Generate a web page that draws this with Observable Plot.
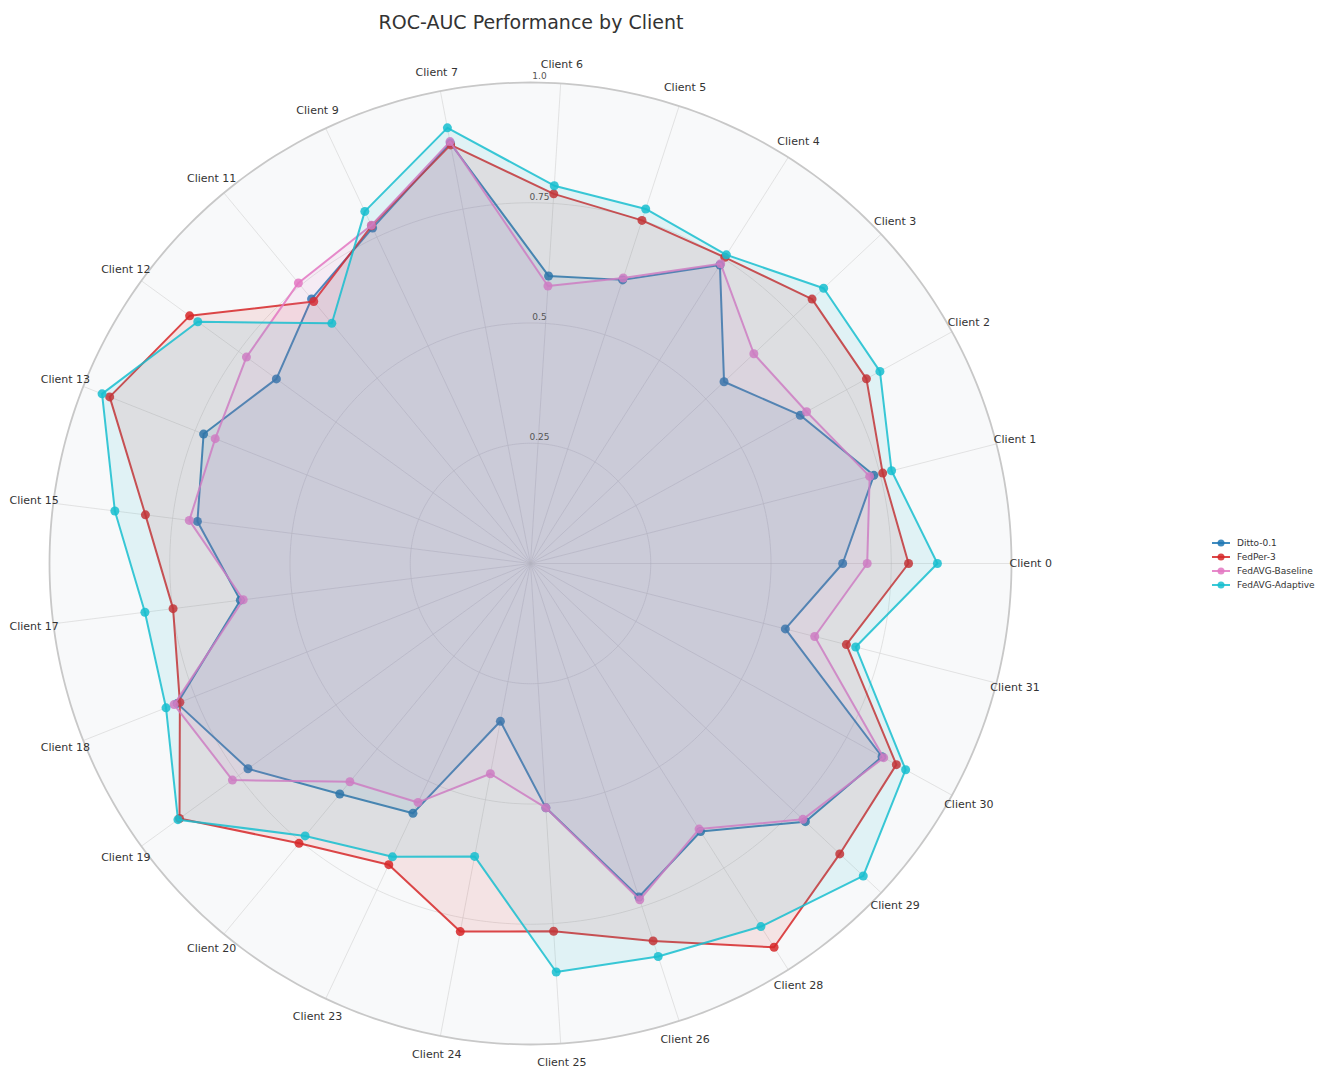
<!DOCTYPE html>
<html>
<head>
<meta charset="utf-8">
<script src="https://cdn.jsdelivr.net/npm/d3@7"></script>
<script src="https://cdn.jsdelivr.net/npm/@observablehq/plot@0.6"></script>
<style>
  html, body { margin: 0; padding: 0; background: #fff; }
  body { font-family: "DejaVu Sans", sans-serif; width: 1336px; height: 1070px; position: relative; overflow: hidden; }
  #title { position: absolute; left: 0; top: 0; width: 1062px; height: 45px; line-height: 45px; text-align: center; font-size: 19px; color: #333; }
  #chart { position: absolute; left: 0; top: 44px; }
  #legend { position: absolute; left: 1210px; top: 536px; font-size: 9px; color: #333; }
  #legend .row { display: flex; align-items: center; height: 14px; }
  #legend svg { margin-right: 5px; }
</style>
</head>
<body>
<div id="title">ROC-AUC Performance by Client</div>
<div id="chart"></div>
<div id="legend"></div>
<script>
const clients = ["Client 0","Client 1","Client 2","Client 3","Client 4","Client 5","Client 6","Client 7","Client 9","Client 11","Client 12","Client 13","Client 15","Client 17","Client 18","Client 19","Client 20","Client 23","Client 24","Client 25","Client 26","Client 28","Client 29","Client 30","Client 31"];

const seriesNames = ["Ditto-0.1", "FedPer-3", "FedAVG-Baseline", "FedAVG-Adaptive"];
const seriesColors = ["#1f77b4", "#d62728", "#e377c2", "#17becf"];

const ditto    = [0.649, 0.737, 0.640, 0.552, 0.735, 0.620, 0.599, 0.890, 0.771, 0.714, 0.653, 0.731, 0.698, 0.608, 0.790, 0.726, 0.622, 0.574, 0.334, 0.509, 0.729, 0.660, 0.784, 0.834, 0.547];
const fedper   = [0.786, 0.756, 0.797, 0.803, 0.754, 0.750, 0.770, 0.886, 0.776, 0.707, 0.876, 0.941, 0.807, 0.749, 0.784, 0.902, 0.755, 0.692, 0.779, 0.766, 0.825, 0.945, 0.882, 0.868, 0.678];
const baseline = [0.700, 0.728, 0.655, 0.637, 0.738, 0.624, 0.578, 0.893, 0.777, 0.757, 0.730, 0.705, 0.715, 0.602, 0.797, 0.766, 0.589, 0.549, 0.445, 0.509, 0.735, 0.654, 0.777, 0.838, 0.610];
const adaptive = [0.846, 0.775, 0.829, 0.836, 0.760, 0.775, 0.787, 0.922, 0.809, 0.648, 0.855, 0.958, 0.871, 0.808, 0.815, 0.906, 0.735, 0.674, 0.620, 0.851, 0.859, 0.894, 0.949, 0.890, 0.698];

const radialTicks = [0.25, 0.5, 0.75, 1.0];
const radialTickLabels = ["0.25", "0.5", "0.75", "1.0"];

const seriesValues = [ditto, fedper, baseline, adaptive];
const n = clients.length;
const ang = i => i * 2 * Math.PI / n;

// polar -> cartesian helpers (data space)
const px = (v, a) => v * Math.cos(a);
const py = (v, a) => v * Math.sin(a);

// circle outlines for grid
const circle = r => d3.range(0, 361, 1).map(deg => ({x: px(r, deg * Math.PI / 180), y: py(r, deg * Math.PI / 180)}));

const spokes = clients.map((c, i) => ({x1: 0, y1: 0, x2: px(1, ang(i)), y2: py(1, ang(i))}));

const marks = [];
// polar background
marks.push(Plot.line(circle(1), {x: "x", y: "y", fill: "#f8f9fa", stroke: "none"}));
// grid rings
for (const t of radialTicks.slice(0, -1)) {
  marks.push(Plot.line(circle(t), {x: "x", y: "y", stroke: "#d6d6d6", strokeOpacity: 0.65, strokeWidth: 1}));
}
// spokes
marks.push(Plot.link(spokes, {x1: "x1", y1: "y1", x2: "x2", y2: "y2", stroke: "#d6d6d6", strokeOpacity: 0.65, strokeWidth: 1}));
// outer ring
marks.push(Plot.line(circle(1), {x: "x", y: "y", stroke: "#c8c8c8", strokeWidth: 1.8}));

// series
seriesNames.forEach((name, s) => {
  const vals = seriesValues[s];
  const pts = vals.map((v, i) => ({client: clients[i], value: v, x: px(v, ang(i)), y: py(v, ang(i))}));
  const closed = pts.concat([pts[0]]);
  marks.push(Plot.line(closed, {x: "x", y: "y", fill: seriesColors[s], fillOpacity: 0.1, stroke: "none"}));
  marks.push(Plot.line(closed, {x: "x", y: "y", stroke: seriesColors[s], strokeWidth: 2, strokeOpacity: 0.85, curve: "linear"}));
  marks.push(Plot.dot(pts, {x: "x", y: "y", r: 4.5, fill: seriesColors[s], fillOpacity: 0.85, stroke: "none"}));
});

// angular labels
marks.push(Plot.text(clients, {
  x: (d, i) => px(1.04, ang(i)),
  y: (d, i) => py(1.04, ang(i)),
  text: d => d,
  fontSize: 11,
  fill: "#333",
  textAnchor: "middle",
  lineAnchor: "middle"
}));

// radial tick labels
marks.push(Plot.text(radialTicks, {
  x: () => 0,
  y: d => d,
  text: (d, i) => radialTickLabels[i],
  dx: 9,
  dy: -6,
  fontSize: 9,
  fill: "#555",
  textAnchor: "middle"
}));

const chart = Plot.plot({
  width: 1336,
  height: 1026,
  margin: 0,
  style: {background: "transparent", fontFamily: "DejaVu Sans, sans-serif", overflow: "visible"},
  x: {domain: [-1, 1], range: [49, 1011], axis: null},
  y: {domain: [-1, 1], range: [1000, 38], axis: null},
  marks
});
document.getElementById("chart").appendChild(chart);

// legend
const legend = document.getElementById("legend");
seriesNames.forEach((name, s) => {
  const row = document.createElement("div");
  row.className = "row";
  row.innerHTML = `<svg width="22" height="12"><line x1="2" x2="20" y1="6" y2="6" stroke="${seriesColors[s]}" stroke-width="2" stroke-opacity="0.85"/><circle cx="11" cy="6" r="3.5" fill="${seriesColors[s]}" fill-opacity="0.85"/></svg><span>${name}</span>`;
  legend.appendChild(row);
});
</script>
</body>
</html>
